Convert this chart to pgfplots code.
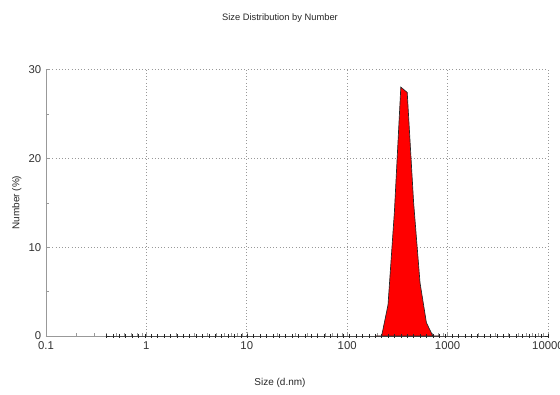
\documentclass[border=0pt]{standalone}
\usepackage{pgfplots}
\usepackage{pgfplotstable}
\pgfplotsset{compat=1.18}
\usepackage{fontspec}
\setmainfont{Liberation Sans}

\pgfplotstableread{
size value
0.4 0
0.4632 0
0.5365 0
0.6213 0
0.7195 0
0.8332 0
0.9649 0
1.117 0
1.294 0
1.499 0
1.736 0
2.010 0
2.328 0
2.696 0
3.122 0
3.615 0
4.187 0
4.849 0
5.615 0
6.503 0
7.531 0
8.721 0
10.10 0
11.70 0
13.54 0
15.69 0
18.17 0
21.04 0
24.36 0
28.21 0
32.67 0
37.84 0
43.82 0
50.75 0
58.77 0
68.06 0
78.82 0
91.28 0
105.7 0
122.4 0
141.8 0
164.2 0
190.1 0
220.2 0
255.0 3.5
295.3 14.0
342.0 28.0
396.1 27.4
458.7 15.0
531.2 6.0
615.1 1.5
712.4 0
825.0 0
955.4 0
1106 0
1281 0
1484 0
1718 0
1990 0
2305 0
2669 0
3091 0
3580 0
4145 0
4801 0
5560 0
6439 0
7456 0
8635 0
10000 0
}\datatable

\begin{document}
\begin{tikzpicture}
\path[use as bounding box] (-34.5pt,-44.25pt) rectangle (385.5pt,252pt);
\begin{axis}[
  at={(0,0)}, anchor=south west,
  scale only axis,
  width=376.5pt, height=200pt,
  xmode=log,
  xmin=0.1, xmax=10000,
  ymin=0, ymax=30,
  xtick={0.1,1,10,100,1000,10000},
  xticklabels={0.1,1,10,100,1000,10000},
  ytick={0,10,20,30},
  minor ytick={5,15,25},
  axis lines*=left,
  axis line style={-, gray!80},
  tick align=inside,
  tick style={gray!80},
  major tick length=3pt,
  minor tick length=2pt,
  grid=major,
  major grid style={gray!80, dotted, line width=0.6pt},
  minor grid style={draw=none},
  tick label style={font=\fontsize{8.5}{10}\selectfont, text=black!80},
  /pgf/number format/assume math mode=true,
  xticklabel style={yshift=-1pt},
  clip=false,
]
\addplot[fill=red, draw=black!85, line width=0.5pt] table[x=size, y=value, restrict x to domain=5.2:6.8] {\datatable} \closedcycle;
\addplot[black!85, line width=0.6pt, mark=|, mark size=1.2pt, mark options={line width=0.4pt}] table[x=size, y expr=0] {\datatable};
\end{axis}
\node[font=\fontsize{7}{8}\selectfont, text=black!85] at (175.5pt,238.5pt) {Size Distribution by Number};
\node[font=\fontsize{7.5}{9}\selectfont, text=black!85] at (175.5pt,-35.25pt) {Size (d.nm)};
\node[font=\fontsize{7.5}{9}\selectfont, text=black!85, rotate=90] at (-22pt,100pt) {Number (\%)};
\end{tikzpicture}
\end{document}
